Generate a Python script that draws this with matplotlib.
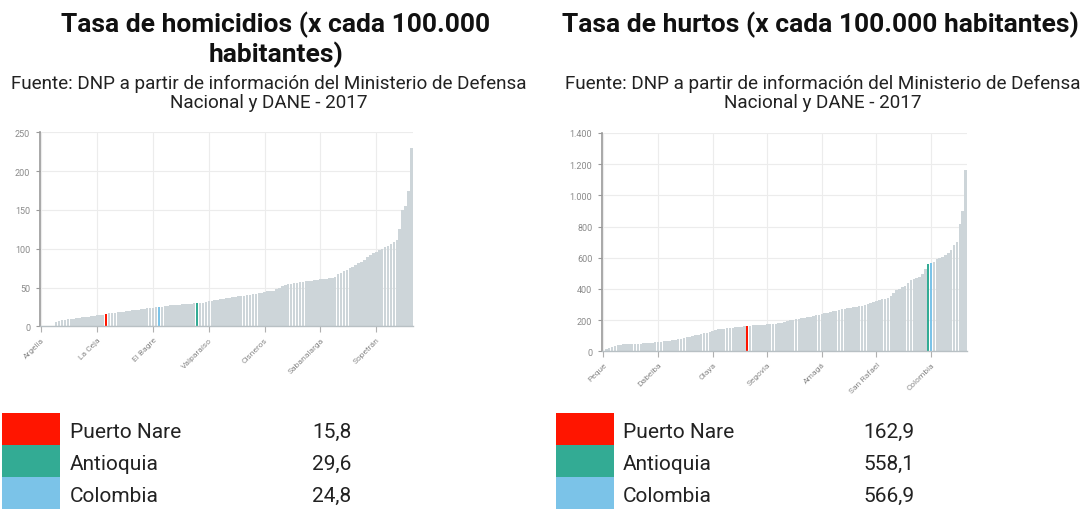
import matplotlib
matplotlib.use("Agg")
import matplotlib.pyplot as plt
from matplotlib.patches import Rectangle
from matplotlib.ticker import FuncFormatter, MultipleLocator

plt.rcParams['font.family'] = ['Roboto', 'DejaVu Sans']

# ---------------- data ----------------
# Homicide rate per 100.000 inhabitants, municipalities of Antioquia (+ Antioquia, Colombia), sorted
hom_values = [
    0, 0, 0, 0, 0, 5, 6.5, 7.5, 8, 9,
    9.5, 10, 10.5, 11, 11.5, 12, 12.5, 13, 13.5, 14,
    14.5, 15, 15.8, 16.5, 17, 17.5, 18, 18.5, 19, 19.5,
    20, 20.5, 21, 21.5, 22, 22.5, 23, 23.5, 24, 24.5,
    24.8, 25.5, 26, 26.5, 27, 27.3, 27.7, 28, 28.3, 28.6,
    29, 29.2, 29.4, 29.6, 30, 30.5, 31, 32, 33, 34,
    34.5, 35, 35.5, 36, 37, 37.5, 38, 38.5, 39, 39.5,
    40, 40.5, 41, 42, 43, 43.5, 44, 45, 45.5, 46,
    48, 50, 52, 53, 54, 55, 55.5, 56, 57, 57.5,
    58, 58.5, 59, 59.5, 60, 60.5, 61, 61.5, 62, 62.5,
    64, 67, 69, 71, 73, 75, 77, 79, 81, 83,
    86, 89, 92, 94, 96, 98, 100, 102, 104, 106,
    108, 111, 125, 150, 155, 175, 230,
]
hom_highlight = {22: 'Puerto Nare', 53: 'Antioquia', 40: 'Colombia'}
hom_ticklabels = ['Argelia', 'La Ceja', 'El Bagre', 'Valparaíso', 'Cisneros', 'Sabanalarga', 'Sopetrán']
hom_legend_values = [15.8, 29.6, 24.8]

# Theft rate per 100.000 inhabitants, sorted
hur_values = [
    5, 12, 20, 28, 35, 40, 42, 44, 45, 46,
    47, 48, 49, 50, 52, 53, 54, 56, 57, 58,
    60, 63, 66, 69, 72, 75, 78, 82, 86, 90,
    94, 98, 102, 106, 110, 115, 120, 125, 130, 136,
    140, 143, 145, 147, 149, 151, 153, 155, 158, 160,
    162.9, 165, 167, 168, 169, 170, 171, 172, 174, 175,
    177, 179, 182, 185, 192, 198, 203, 207, 209, 211,
    214, 218, 222, 226, 230, 235, 240, 244, 248, 252,
    256, 260, 265, 270, 274, 277, 279, 281, 284, 288,
    292, 296, 302, 310, 318, 323, 328, 333, 338, 345,
    352, 375, 392, 400, 410, 420, 440, 455, 465, 470,
    478, 495, 530, 558.1, 566.9, 572, 590, 600, 605, 615,
    630, 650, 680, 700, 815, 900, 1160,
]
hur_highlight = {50: 'Puerto Nare', 113: 'Antioquia', 114: 'Colombia'}
hur_ticklabels = ['Peque', 'Dabeiba', 'Olaya', 'Segovia', 'Amagá', 'San Rafael', 'Colombia']
hur_legend_values = [162.9, 558.1, 566.9]

legend_names = ['Puerto Nare', 'Antioquia', 'Colombia']

# ---------------- style ----------------
BAR = '#cdd5d9'
COLORS = {'Puerto Nare': '#ff1500', 'Antioquia': '#33ab94', 'Colombia': '#7bc3e8'}
TICK_STEP = 19

W, H = 1089, 510
fig = plt.figure(figsize=(W / 100, H / 100), dpi=100)


def fx(px):
    return px / W


def fy(py):
    return 1 - py / H


def thousands(v, pos):
    return f"{int(v):,}".replace(',', '.')


def draw_chart(rect, values, highlight, ticklabels, ymax, ystep):
    ax = fig.add_axes(rect)
    n = len(values)
    idx = list(range(n))
    colors = [COLORS[highlight[i]] if i in highlight else BAR for i in idx]
    ax.bar(idx, values, width=0.88, color=colors, linewidth=0, zorder=2)
    ax.set_xlim(-0.5, n - 0.5)
    ax.set_ylim(0, ymax)
    ax.yaxis.set_major_locator(MultipleLocator(ystep))
    ax.yaxis.set_major_formatter(FuncFormatter(thousands))
    ticks = list(range(0, n, TICK_STEP))[:len(ticklabels)]
    ax.set_xticks(ticks)
    ax.set_xticklabels(ticklabels, rotation=45, ha='right', rotation_mode='anchor')
    ax.tick_params(axis='y', labelsize=6.5, colors='#9a9a9a', length=3, width=0.8,
                   labelcolor='#8a8a8a', pad=4)
    ax.tick_params(axis='x', labelsize=6, colors='#b0b0b0', length=4, width=0.8,
                   labelcolor='#8a8a8a', pad=3)
    ax.grid(True, color='#ececec', linewidth=0.8, zorder=0)
    for s in ['top', 'right']:
        ax.spines[s].set_visible(False)
    ax.spines['left'].set_color('#9a9a9a')
    ax.spines['left'].set_linewidth(1.2)
    ax.spines['bottom'].set_color('#b8c0c4')
    ax.spines['bottom'].set_linewidth(1.0)
    ax.set_axisbelow(True)
    return ax


# left chart
draw_chart([fx(40), fy(327.3), fx(413) - fx(40), fy(133.3) - fy(327.3)],
           hom_values, hom_highlight, hom_ticklabels, 250, 50)
# right chart
draw_chart([fx(602), fy(352.3), fx(967) - fx(602), fy(134) - fy(352.3)],
           hur_values, hur_highlight, hur_ticklabels, 1400, 200)

# titles
TITLE_FS = 19
SUB_FS = 13.6
fig.text(fx(276), fy(25), 'Tasa de homicidios (x cada 100.000', ha='center', va='center',
         fontsize=TITLE_FS, fontweight='bold', color='#111111')
fig.text(fx(276), fy(55), 'habitantes)', ha='center', va='center',
         fontsize=TITLE_FS, fontweight='bold', color='#111111')
fig.text(fx(269), fy(84), 'Fuente: DNP a partir de información del Ministerio de Defensa',
         ha='center', va='center', fontsize=SUB_FS, color='#222222')
fig.text(fx(269), fy(103), 'Nacional y DANE - 2017', ha='center', va='center',
         fontsize=SUB_FS, color='#222222')

fig.text(fx(820), fy(25), 'Tasa de hurtos (x cada 100.000 habitantes)', ha='center', va='center',
         fontsize=TITLE_FS, fontweight='bold', color='#111111')
fig.text(fx(823), fy(84), 'Fuente: DNP a partir de información del Ministerio de Defensa',
         ha='center', va='center', fontsize=SUB_FS, color='#222222')
fig.text(fx(823), fy(103), 'Nacional y DANE - 2017', ha='center', va='center',
         fontsize=SUB_FS, color='#222222')


# legend tables
def draw_legend(x0, sq_x, sq_w, txt_x, val_x, vals):
    lax = fig.add_axes([fx(x0), 0, fx(544), fy(414)])
    lax.set_xlim(0, 544)
    lax.set_ylim(3, 0)
    lax.axis('off')
    for i, (name, v) in enumerate(zip(legend_names, vals)):
        lax.add_patch(Rectangle((sq_x, i), sq_w, 1, facecolor=COLORS[name], edgecolor='none'))
        lax.text(txt_x, i + 0.57, name, ha='left', va='center', fontsize=15, color='#222222')
        lax.text(val_x, i + 0.57, f"{v:.1f}".replace('.', ','), ha='left', va='center',
                 fontsize=15, color='#222222')


draw_legend(0, 2, 58, 70, 312, hom_legend_values)
draw_legend(545, 11, 58, 78, 318, hur_legend_values)

fig.savefig('out.png', dpi=100)
